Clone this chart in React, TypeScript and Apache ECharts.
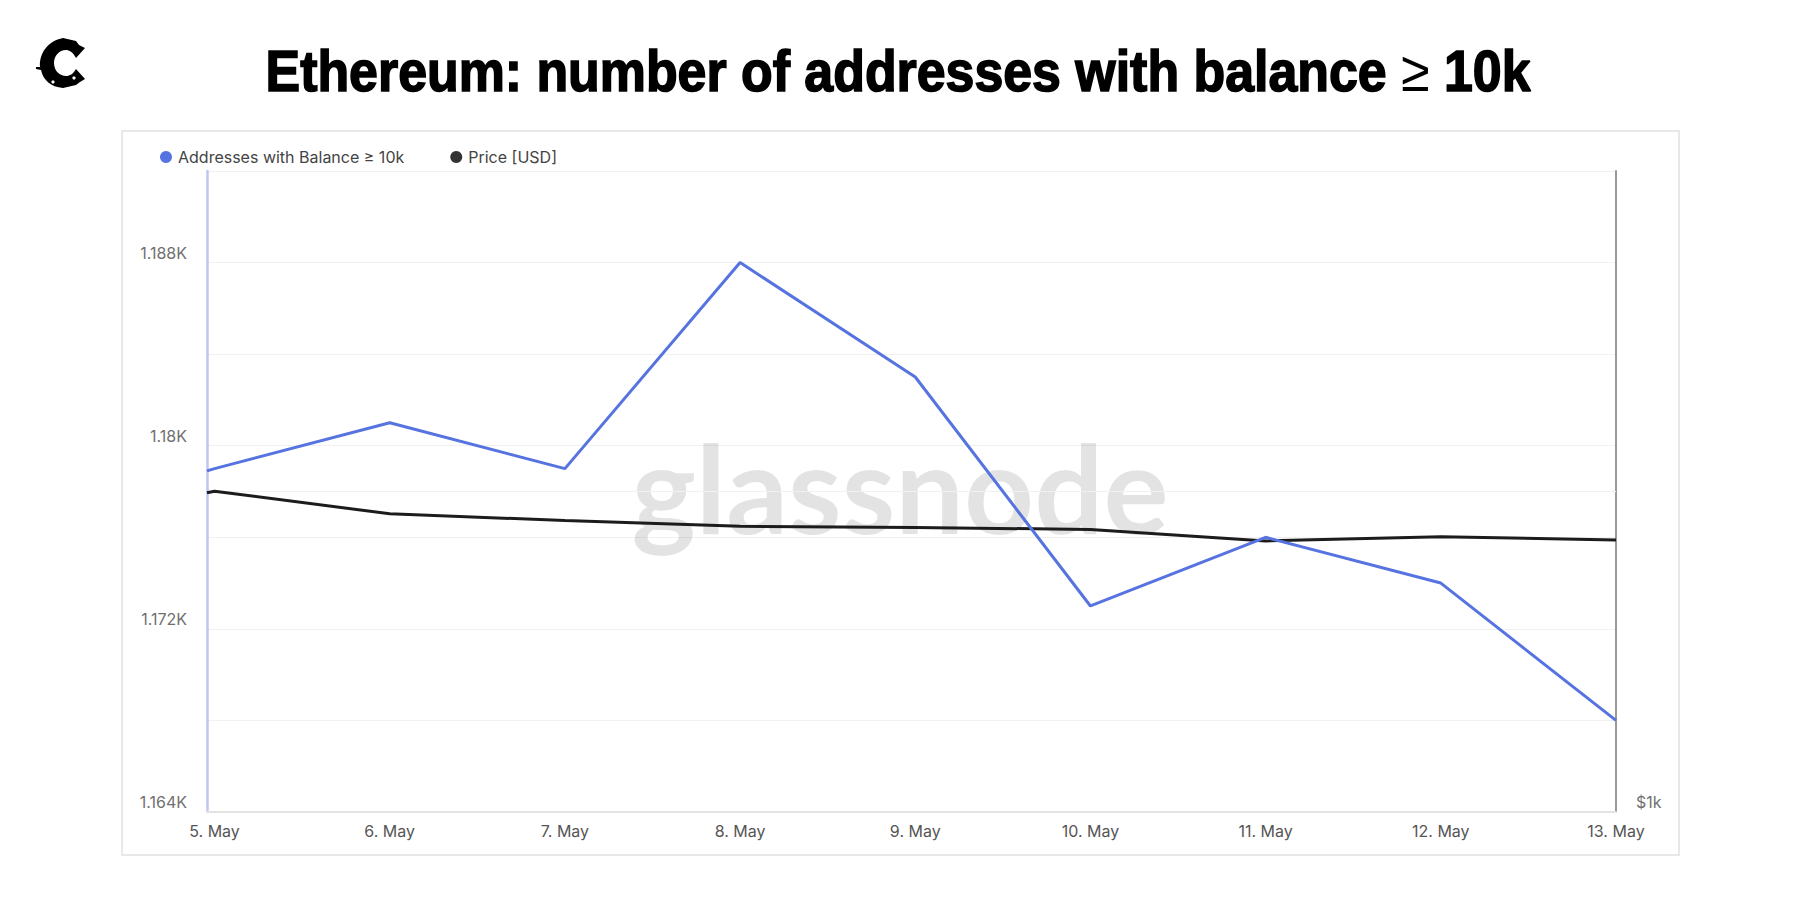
import { useEffect, useRef } from "react";
import * as echarts from "echarts";

const TITLE_LEFT = "Ethereum: number of addresses with balance";
const TITLE_SIGN = "≥";
const TITLE_RIGHT = "10k";
const ADDR_NAME = "Addresses with Balance ≥ 10k";
const PRICE_NAME = "Price [USD]";

// days of May, x position in day units
const DAYS = [5, 6, 7, 8, 9, 10, 11, 12, 13];
const X_START = 4.957;
const ADDR_X = [X_START, 5, 6, 7, 8, 9, 10, 11, 12, 13];
const ADDR_VALUES = [1178.9, 1179, 1181, 1179, 1188, 1183, 1173, 1176, 1174, 1168];
const PRICE_VALUES = [3148, 3166, 2919, 2849, 2790, 2779, 2759, 2648, 2687, 2657];
const LABELED_TICKS = [1164, 1172, 1180, 1188];

const FONT = "Inter, 'Noto Sans', sans-serif";
const TITLE_FONT = "'Liberation Sans', sans-serif";
const BLUE = "#5673e0";
const BLACK = "#1c1c1c";

// rough trace of the logo
echarts.graphic.registerShape(
  "logoC",
  echarts.graphic.extendPath(
    "M27 0 L40 3 L43 7 L49 10 L40 20 C37 14 33 12 30 12 C23 12 18 18 18 25 C18 33 24 38 30 38 C34 38 37 36 40 31 L49 41 L44 44 L40 47 L27 50 C15 49 7 42 5 32 L0 31 L0 29 L4 29 C3 15 12 3 27 0 Z",
    {},
  ),
);

export default function App() {
  const elRef = useRef<HTMLDivElement>(null);

  useEffect(() => {
    const el = elRef.current;
    if (!el) return;
    const chart = echarts.init(el, undefined, { renderer: "svg" });
    chart.setOption({
      animation: false,
      backgroundColor: "#ffffff",
      textStyle: { fontFamily: FONT },
      legend: {
        left: 155,
        top: 144,
        itemGap: 46,
        itemWidth: 14,
        itemHeight: 12,
        icon: "circle",
        textStyle: { fontFamily: FONT, fontSize: 16, color: "#444444", padding: [0, 0, 0, 0] },
        data: [
          { name: ADDR_NAME, itemStyle: { color: BLUE } },
          { name: PRICE_NAME, itemStyle: { color: "#333333" } },
        ],
      },
      graphic: [
        {
          // title squeezed horizontally, the installed bold faces run wider than the original
          type: "text",
          x: 898,
          y: 72,
          scaleX: 0.91,
          style: {
            text: `{a|${TITLE_LEFT} }{b|${TITLE_SIGN}}{a| ${TITLE_RIGHT}}`,
            align: "center",
            verticalAlign: "middle",
            rich: {
              a: { fontFamily: TITLE_FONT, fontSize: 57, fontWeight: 700, fill: "#000000", stroke: "#000000", lineWidth: 1.6 },
              b: { fontFamily: TITLE_FONT, fontSize: 57, fontWeight: 400, fill: "#000000" },
            },
          },
        },
        { type: "rect", shape: { x: 122, y: 131, width: 1557, height: 724 }, style: { fill: "none", stroke: "#e8e8e8", lineWidth: 2 }, z: 0 },
        {
          type: "text",
          x: 900,
          y: 487,
          z: 1,
          style: { text: "glassnode", fontFamily: "Lato, sans-serif", fontSize: 122, fontWeight: 700, fill: "#000000", opacity: 0.11, align: "center", verticalAlign: "middle" },
        },
        { type: "logoC", x: 36, y: 38, style: { fill: "#000000" } },
        { type: "circle", shape: { cx: 43, cy: 48, r: 1.6 }, style: { fill: "#ffffff" }, z: 5 },
        { type: "circle", shape: { cx: 53, cy: 82, r: 1.6 }, style: { fill: "#ffffff" }, z: 5 },
        { type: "circle", shape: { cx: 74, cy: 78, r: 1.6 }, style: { fill: "#ffffff" }, z: 5 },
      ],
      grid: { left: 207, right: 184, top: 171, bottom: 88 },
      xAxis: {
        type: "value",
        min: X_START,
        max: 13,
        splitLine: { show: false },
        axisLine: { lineStyle: { color: "#e3e3e3", width: 2 } },
        axisTick: { show: false },
        axisLabel: {
          customValues: DAYS,
          formatter: (v: number) => `${v}. May`,
          color: "#555555",
          fontSize: 16,
          fontFamily: FONT,
          margin: 11,
          showMinLabel: true,
          showMaxLabel: true,
        },
      },
      yAxis: [
        {
          type: "value",
          min: 1164,
          max: 1192,
          interval: 4,
          position: "left",
          axisLine: { show: true, lineStyle: { color: "#bcc6f2", width: 2.5 } },
          axisTick: { show: false },
          splitLine: { lineStyle: { color: "#f1f1f1", width: 1 } },
          axisLabel: {
            formatter: (v: number) => (LABELED_TICKS.includes(v) ? `${v / 1000}K` : ""),
            color: "#707070",
            fontSize: 16,
            fontFamily: FONT,
            margin: 20,
            verticalAlign: "bottom",
            padding: [0, 0, 2, 0],
          },
        },
        {
          type: "log",
          min: 1000,
          max: 10000,
          position: "right",
          axisLine: { show: true, lineStyle: { color: "#9a9a9a", width: 2 } },
          axisTick: { show: false },
          splitLine: { show: false },
          axisLabel: {
            formatter: (v: number) => (v === 1000 ? "$1k" : ""),
            color: "#707070",
            fontSize: 16,
            fontFamily: FONT,
            margin: 20,
            verticalAlign: "bottom",
            padding: [0, 0, 2, 0],
          },
        },
      ],
      series: [
        {
          name: PRICE_NAME,
          type: "line",
          yAxisIndex: 1,
          z: 3,
          showSymbol: false,
          data: ADDR_X.map((x, i) => [x, PRICE_VALUES[i]]),
          lineStyle: { color: BLACK, width: 3 },
          itemStyle: { color: "#333333" },
          markLine: {
            silent: true,
            z: 1,
            symbol: "none",
            label: { show: false },
            lineStyle: { color: "#f1f1f1", width: 1, type: "solid" },
            data: [{ yAxis: 3162 }],
          },
        },
        {
          name: ADDR_NAME,
          type: "line",
          yAxisIndex: 0,
          z: 4,
          showSymbol: false,
          data: ADDR_X.map((x, i) => [x, ADDR_VALUES[i]]),
          lineStyle: { color: BLUE, width: 3 },
          itemStyle: { color: BLUE },
        },
      ],
    });
    return () => chart.dispose();
  }, []);

  return <div ref={elRef} style={{ position: "absolute", left: 0, top: 0, width: 1800, height: 900 }} />;
}
